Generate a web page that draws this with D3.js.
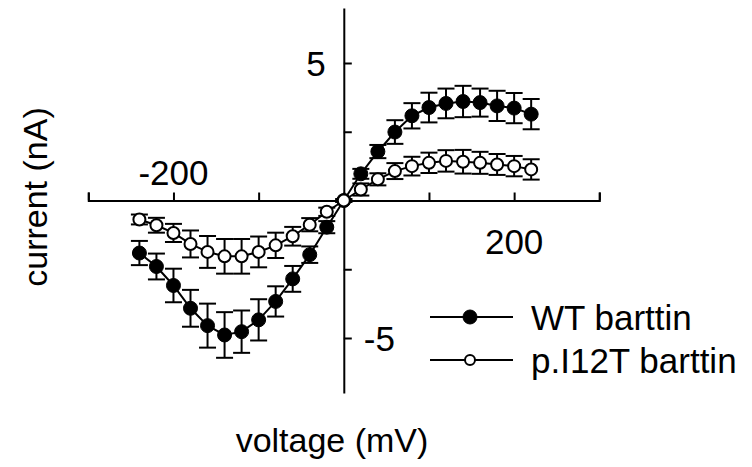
<!DOCTYPE html>
<html>
<head>
<meta charset="utf-8">
<script src="https://cdn.jsdelivr.net/npm/d3@7"></script>
<style>
  body { margin: 0; background: #fff; }
  svg { display: block; font-family: Arial, "Liberation Sans", sans-serif; }
</style>
</head>
<body>
<div id="chart"></div>
<script>
// voltage steps (mV)
const voltages = [-240, -220, -200, -180, -160, -140, -120, -100, -80, -60, -40, -20,
                  0, 20, 40, 60, 80, 100, 120, 140, 160, 180, 200, 220];

// WT barttin current (nA) and SEM
const wtMean = [-1.91, -2.40, -3.09, -3.92, -4.55, -4.89, -4.77, -4.34, -3.67, -2.85, -1.97, -0.97,
                0, 0.97, 1.78, 2.49, 3.08, 3.38, 3.53, 3.60, 3.56, 3.44, 3.36, 3.14];
const wtErr = [0.44, 0.47, 0.61, 0.67, 0.80, 0.83, 0.77, 0.75, 0.55, 0.47, 0.30, 0.22,
               0.05, 0.18, 0.24, 0.43, 0.46, 0.54, 0.54, 0.57, 0.51, 0.55, 0.55, 0.55];

// p.I12T barttin current (nA) and SEM
const mutMean = [-0.69, -0.90, -1.18, -1.58, -1.87, -2.03, -2.03, -1.87, -1.63, -1.30, -0.88, -0.41,
                 0, 0.40, 0.77, 1.07, 1.25, 1.37, 1.44, 1.41, 1.37, 1.31, 1.25, 1.13];
const mutErr = [0.18, 0.27, 0.33, 0.49, 0.58, 0.63, 0.63, 0.56, 0.46, 0.34, 0.24, 0.15,
                0.05, 0.22, 0.22, 0.29, 0.34, 0.37, 0.39, 0.43, 0.40, 0.38, 0.37, 0.37];

const xTicks = [-300, -200, -100, 0, 100, 200, 300];
const yTicks = [-5, -2.5, 0, 2.5, 5];
const seriesNames = ["WT barttin", "p.I12T barttin"];

const width = 752;
const height = 467;

const x = d3.scaleLinear().domain([-300, 300]).range([88.3, 599.3]);
const y = d3.scaleLinear().domain([-7, 7]).range([393, 8]);

const svg = d3.select("#chart").append("svg")
    .attr("width", width)
    .attr("height", height);

// x axis through origin, ticks pointing up
const xAxis = svg.append("g")
    .attr("transform", `translate(0,${y(0)})`)
    .call(d3.axisTop(x).tickValues(xTicks).tickSize(8).tickSizeOuter(8).tickFormat(""));
xAxis.selectAll("path, line").attr("stroke", "#000").attr("stroke-width", 2);

// y axis through origin, ticks pointing right
const yAxis = svg.append("g")
    .attr("transform", `translate(${x(0)},0)`)
    .call(d3.axisRight(y).tickValues(yTicks).tickSize(8).tickSizeOuter(0).tickFormat(""));
yAxis.selectAll("path, line").attr("stroke", "#000").attr("stroke-width", 2);

// tick labels, placed like the original
const labelSize = 35;
svg.append("text").attr("x", x(-200)).attr("y", y(0) - 16)
    .attr("text-anchor", "middle").attr("font-size", labelSize).text("-200");
svg.append("text").attr("x", x(200)).attr("y", y(0) + 53)
    .attr("text-anchor", "middle").attr("font-size", labelSize).text("200");
svg.append("text").attr("x", x(0) - 18).attr("y", y(5)).attr("dy", "0.36em")
    .attr("text-anchor", "end").attr("font-size", labelSize).text("5");
svg.append("text").attr("x", x(0) + 20).attr("y", y(-5)).attr("dy", "0.36em")
    .attr("text-anchor", "start").attr("font-size", labelSize).text("-5");

// axis titles
svg.append("text")
    .attr("x", 332).attr("y", 452)
    .attr("text-anchor", "middle").attr("font-size", 34)
    .text("voltage (mV)");
svg.append("text")
    .attr("transform", `translate(47,197) rotate(-90)`)
    .attr("text-anchor", "middle").attr("font-size", 34)
    .text("current (nA)");

function drawSeries(mean, err, filled) {
    const pts = voltages.map((v, i) => ({v: v, m: mean[i], e: err[i]}));
    const g = svg.append("g");

    g.append("path")
        .datum(pts)
        .attr("fill", "none")
        .attr("stroke", "#000")
        .attr("stroke-width", 2)
        .attr("d", d3.line().x(d => x(d.v)).y(d => y(d.m)));

    const bars = g.selectAll(".err").data(pts).join("g")
        .attr("stroke", "#000").attr("stroke-width", 2);
    bars.append("line")
        .attr("x1", d => x(d.v)).attr("x2", d => x(d.v))
        .attr("y1", d => y(d.m - d.e)).attr("y2", d => y(d.m + d.e));
    bars.append("line")
        .attr("x1", d => x(d.v) - 8.5).attr("x2", d => x(d.v) + 8.5)
        .attr("y1", d => y(d.m + d.e)).attr("y2", d => y(d.m + d.e));
    bars.append("line")
        .attr("x1", d => x(d.v) - 8.5).attr("x2", d => x(d.v) + 8.5)
        .attr("y1", d => y(d.m - d.e)).attr("y2", d => y(d.m - d.e));

    g.selectAll("circle").data(pts).join("circle")
        .attr("cx", d => x(d.v)).attr("cy", d => y(d.m))
        .attr("r", filled ? 7 : 6)
        .attr("fill", filled ? "#000" : "#fff")
        .attr("stroke", "#000")
        .attr("stroke-width", filled ? 1 : 2);
}

drawSeries(wtMean, wtErr, true);
drawSeries(mutMean, mutErr, false);

// legend
const legend = svg.append("g");
seriesNames.forEach((name, i) => {
    const ly = 317 + i * 43;
    legend.append("line")
        .attr("x1", 430).attr("x2", 513).attr("y1", ly).attr("y2", ly)
        .attr("stroke", "#000").attr("stroke-width", 2);
    legend.append("circle")
        .attr("cx", 470).attr("cy", ly)
        .attr("r", i === 0 ? 7 : 5)
        .attr("fill", i === 0 ? "#000" : "#fff")
        .attr("stroke", "#000").attr("stroke-width", i === 0 ? 1 : 2);
    legend.append("text")
        .attr("x", 531).attr("y", ly).attr("dy", "0.36em")
        .attr("font-size", 35)
        .text(name);
});
</script>
</body>
</html>
